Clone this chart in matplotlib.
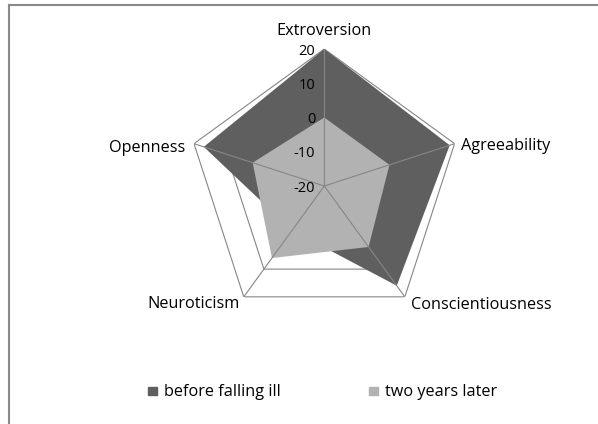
import numpy as np
import matplotlib
matplotlib.use("Agg")
import matplotlib.pyplot as plt
from matplotlib.patches import Rectangle

# Daten
categories = ["Extroversion", "Agreeability", "Conscientiousness", "Neuroticism", "Openness"]
before_ill = [20, 18.5, 16, -4, 17]
two_years = [0, 0, 2, 6, 2]
ticks = [-20, -10, 0, 10, 20]
legend_labels = ["before falling ill", "two years later"]
colors = ["#5f5f5f", "#b2b2b2"]

plt.rcParams["font.family"] = ["Open Sans", "DejaVu Sans"]

W, H = 598, 424
fig = plt.figure(figsize=(W / 100, H / 100), dpi=100)

# Rahmen oben und links
fig.add_artist(plt.Line2D([8.5 / W, 8.5 / W], [0, 1 - 4.5 / H], color="#8a8a8a", lw=1.5))
fig.add_artist(plt.Line2D([8.5 / W, 1], [1 - 4.5 / H, 1 - 4.5 / H], color="#8a8a8a", lw=1.5))

cx, cy, rad = 324.3, 186, 137
ax = fig.add_axes([(cx - rad) / W, (H - cy - rad) / H, 2 * rad / W, 2 * rad / H], projection="polar")
ax.set_theta_zero_location("N")
ax.set_theta_direction(-1)
ax.set_ylim(-20, 20)
ax.grid(False)
ax.spines["polar"].set_visible(False)
ax.set_xticks([])
ax.set_yticks([])
ax.patch.set_alpha(0)

n = len(categories)
theta = np.linspace(0, 2 * np.pi, n, endpoint=False)
theta_c = np.append(theta, theta[0])

# Gitter (Fünfecke)
for lv in ticks[1:]:
    ax.plot(theta_c, [lv] * (n + 1), color="#868686", lw=0.8, zorder=1)

# Flächen
ax.fill(theta_c, before_ill + [before_ill[0]], color=colors[0], lw=0, zorder=2)
ax.fill(theta_c, two_years + [two_years[0]], color=colors[1], lw=0, zorder=3)

# Speichen
for t in theta:
    ax.plot([t, t], [-20, 20], color="#868686", lw=0.8, zorder=4)

# Achsenwerte
for v in ticks:
    ax.annotate(str(v), (0, v), xytext=(-6.5, -1.5), textcoords="offset points",
                ha="right", va="center", fontsize=10.5, zorder=5)

# Kategorien (Versatz in Pixel)
px = 0.72
offsets = [(0, 14, "center"), (6.5, -6.7, "left"), (5.7, -12.3, "left"),
           (-4, -11, "right"), (-9, -8, "right")]
for t, name, (dx, dy, ha) in zip(theta, categories, offsets):
    ax.annotate(name, (t, 20), xytext=(dx * px, dy * px), textcoords="offset points",
                ha=ha, va="baseline", fontsize=11.7, annotation_clip=False)

# Legende
for x_sq, x_txt, lab, col in zip([148, 369], [164, 385], legend_labels, colors):
    fig.add_artist(Rectangle((x_sq / W, 1 - 395 / H), 9 / W, 8.5 / H, color=col, transform=fig.transFigure))
    fig.text(x_txt / W, 1 - 396.5 / H, lab, fontsize=11.7, va="baseline", ha="left")

fig.savefig("out.png", dpi=100)
